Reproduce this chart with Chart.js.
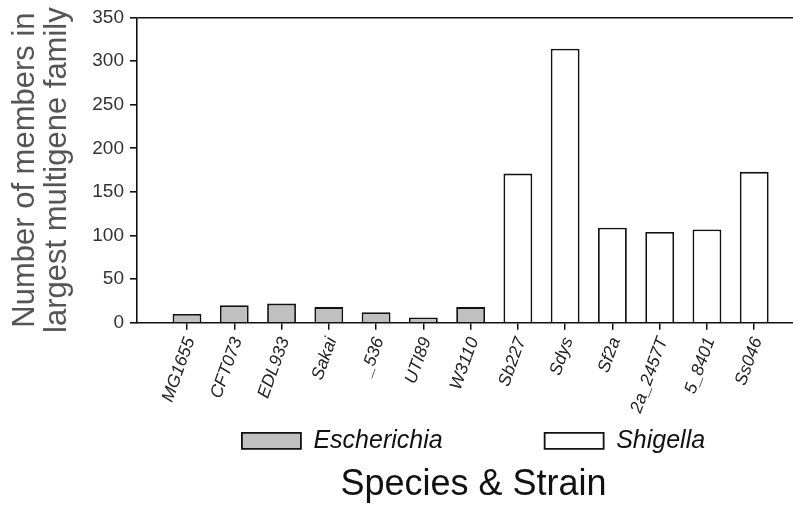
<!DOCTYPE html>
<html lang="en">
<head>
  <meta charset="UTF-8" />
  <title>Largest multigene family by strain</title>
  <script src="https://cdn.jsdelivr.net/npm/chart.js"></script>
  <style>
    body { margin: 0; background: #fff; overflow: hidden; }
    #chart { display: block; }
  </style>
</head>
<body>
  <canvas id="chart" width="810" height="508"></canvas>
  <script>
    // strains along the x axis, Escherichia first then Shigella
    const strains = ['MG1655', 'CFT073', 'EDL933', 'Sakai', '_536', 'UTI89', 'W3110',
                     'Sb227', 'Sdys', 'Sf2a', '2a_2457T', '5_8401', 'Ss046'];
    const escherichiaCounts = [10, 20, 22, 18, 12, 6, 18];
    const shigellaCounts = [171, 314, 109, 104, 107, 173];
    const yTicks = [0, 50, 100, 150, 200, 250, 300, 350];

    const font = 'Liberation Sans, Arial, sans-serif';
    const ink = '#111';

    const escherichiaData = escherichiaCounts.map((v, i) => ({ x: i, y: v }));
    const shigellaData = shigellaCounts.map((v, i) => ({ x: i + escherichiaCounts.length, y: v }));

    const barStyle = {
      borderColor: ink,
      borderWidth: 1.8,
      grouped: false,
      barPercentage: 0.61,
      categoryPercentage: 1
    };

    new Chart(document.getElementById('chart').getContext('2d'), {
      type: 'bar',
      data: {
        datasets: [
          { label: 'Escherichia', data: escherichiaData, backgroundColor: '#c0c0c0', ...barStyle },
          { label: 'Shigella', data: shigellaData, backgroundColor: '#fff', ...barStyle }
        ]
      },
      options: {
        responsive: false,
        animation: false,
        layout: { padding: { top: 6, right: 0, left: 0, bottom: 0 } },
        scales: {
          x: {
            type: 'linear',
            offset: false,
            min: -1.058,
            max: 13.18,
            afterBuildTicks: (scale) => { scale.ticks = strains.map((_, i) => ({ value: i })); },
            // keep the axis box thin so the key sits right under the strain names;
            // mirrored ticks are not clipped to the box, padding pushes them back below
            afterFit: (scale) => { scale.height = 3.5; },
            grid: { offset: false, drawOnChartArea: false, tickLength: 7, tickColor: ink, lineWidth: 1.5 },
            border: { color: ink, width: 1.6 },
            ticks: {
              autoSkip: false,
              minRotation: 70,
              maxRotation: 70,
              mirror: true,
              padding: -19,
              labelOffset: 23,
              color: '#222',
              font: { family: font, size: 17.5, style: 'italic' },
              callback: (v) => strains[v]
            }
          },
          y: {
            min: 0,
            max: 350,
            afterBuildTicks: (scale) => { scale.ticks = yTicks.map(v => ({ value: v })); },
            afterFit: (scale) => { scale.width = 137; },
            grid: {
              color: (c) => c.tick && c.tick.value === 350 ? ink : 'rgba(0,0,0,0)',
              tickColor: ink,
              tickLength: 7,
              lineWidth: 1.6
            },
            border: { color: ink, width: 1.6 },
            ticks: {
              padding: 6,
              color: '#333',
              font: { family: font, size: 19 }
            },
            title: {
              display: true,
              text: ['Number of members in', 'largest multigene family'],
              color: '#555',
              font: { family: font, size: 31, lineHeight: 1.04 },
              padding: { top: 9, bottom: 0 }
            }
          }
        },
        plugins: {
          legend: {
            position: 'bottom',
            fullSize: false,
            labels: {
              boxWidth: 59,
              boxHeight: 16,
              padding: 102,
              color: ink,
              font: { family: font, size: 25, style: 'italic' }
            }
          },
          title: {
            display: true,
            text: 'Species & Strain',
            position: 'bottom',
            fullSize: false,
            color: ink,
            font: { family: font, size: 36, weight: 'normal' },
            padding: { top: 0, bottom: 1.5 }
          },
          tooltip: { enabled: false }
        }
      }
    });
  </script>
</body>
</html>
